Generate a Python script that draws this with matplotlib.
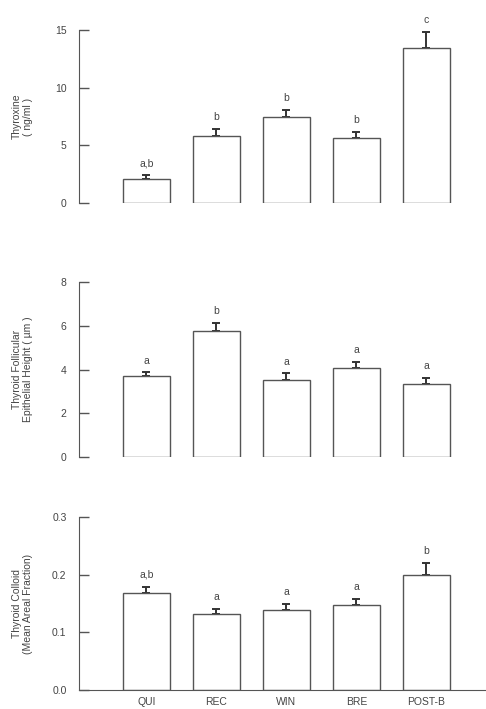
import numpy as np
import matplotlib.pyplot as plt

plt.rcParams['font.family'] = ['Liberation Sans', 'DejaVu Sans']

groups = ['QUI', 'REC', 'WIN', 'BRE', 'POST-B']

t4_mean = [2.1, 5.8, 7.5, 5.6, 13.4]
t4_err = [0.3, 0.65, 0.6, 0.55, 1.45]
t4_sig = ['a,b', 'b', 'b', 'b', 'c']

epi_mean = [3.7, 5.75, 3.5, 4.05, 3.35]
epi_err = [0.17, 0.37, 0.32, 0.28, 0.27]
epi_sig = ['a', 'b', 'a', 'a', 'a']

col_mean = [0.168, 0.132, 0.139, 0.147, 0.199]
col_err = [0.011, 0.009, 0.010, 0.011, 0.022]
col_sig = ['a,b', 'a', 'a', 'a', 'b']

W, H = 486, 709
fig = plt.figure(figsize=(W / 100, H / 100), dpi=100)

LINE = '#555555'
TEXT = '#444444'
FS = 7.5

panels = [
    # top px, bottom px, means, errs, letters, ylim, ticks, ticklabels, ylabel
    (30, 203, t4_mean, t4_err, t4_sig, 15, [0, 5, 10, 15],
     ['0', '5', '10', '15'], 'Thyroxine\n( ng/ml )'),
    (282, 457, epi_mean, epi_err, epi_sig, 8, [0, 2, 4, 6, 8],
     ['0', '2', '4', '6', '8'], 'Thyroid Follicular\nEpithelial Height ( µm )'),
    (517, 690, col_mean, col_err, col_sig, 0.3, [0, 0.1, 0.2, 0.3],
     ['0.0', '0.1', '0.2', '0.3'], 'Thyroid Colloid\n(Mean Areal Fraction)'),
]

x = np.arange(len(groups))
left_px = 79
for i, (top, bot, mean, err, sig, ymax, ticks, tlabels, ylab) in enumerate(panels):
    ax = fig.add_axes([left_px / W, 1 - bot / H, 1 - left_px / W, (bot - top) / H])
    ax.bar(x, mean, width=0.67, color='white', edgecolor=LINE, linewidth=1.0, zorder=2)
    ax.errorbar(x, mean, yerr=[np.zeros(len(err)), err], fmt='none',
                ecolor='#333333', elinewidth=1.4, capsize=3, capthick=1.4,
                zorder=1, clip_on=False)
    for xi, m, e, s in zip(x, mean, err, sig):
        ax.annotate(s, (xi, m + e), xytext=(0, 8.5), textcoords='offset points',
                    ha='center', va='center', fontsize=FS, color=TEXT,
                    annotation_clip=False)
    ax.set_xlim(-0.964, 4.85)
    ax.set_ylim(0, ymax)
    ax.set_yticks(ticks)
    ax.set_yticklabels(tlabels)
    ax.tick_params(axis='y', direction='in', length=7, width=1, color=LINE,
                   labelsize=FS, labelcolor=TEXT, pad=9)
    for s in ['top', 'right']:
        ax.spines[s].set_visible(False)
    ax.spines['left'].set_color(LINE)
    ax.spines['bottom'].set_color(LINE)
    if i < 2:
        ax.spines['bottom'].set_visible(False)
        ax.set_xticks([])
    else:
        ax.set_xticks(x)
        ax.set_xticklabels(groups)
        ax.tick_params(axis='x', length=0, labelsize=FS, labelcolor=TEXT, pad=5)
    ax.set_ylabel(ylab, fontsize=FS, color=TEXT, linespacing=1.1)
    ax.yaxis.set_label_coords(-46 / (W - left_px), 0.5)
    ax.patch.set_visible(False)

fig.savefig('out.png', dpi=100)
